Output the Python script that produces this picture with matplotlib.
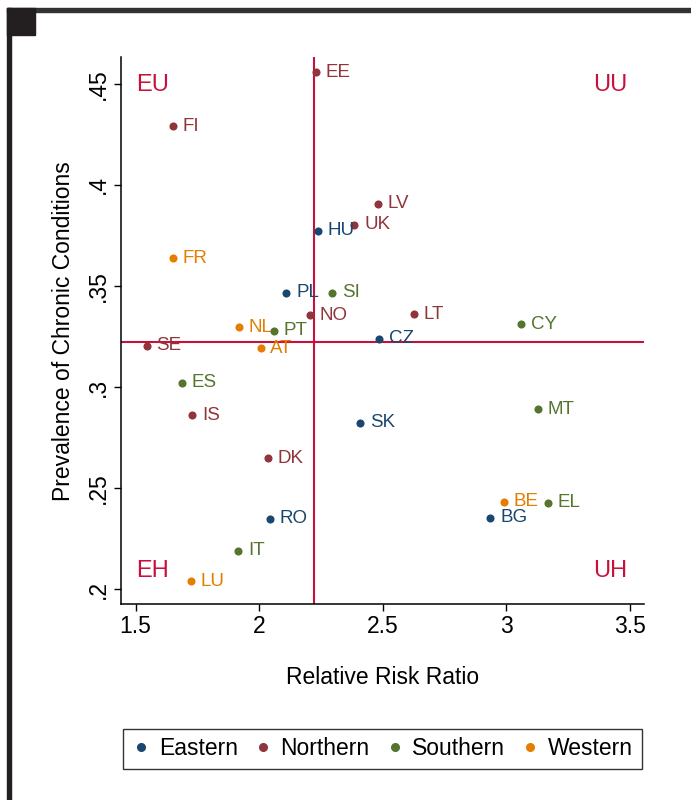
import matplotlib
matplotlib.use("Agg")
import matplotlib.pyplot as plt
from matplotlib.patches import Rectangle
from matplotlib.lines import Line2D

plt.rcParams['font.family'] = ['Liberation Sans', 'DejaVu Sans']

# country codes, region and the two measures
countries = ['EE', 'FI', 'LV', 'UK', 'HU', 'FR', 'PL', 'SI', 'NO', 'LT',
             'NL', 'PT', 'SE', 'AT', 'CZ', 'CY', 'ES', 'IS', 'SK', 'MT',
             'DK', 'BE', 'EL', 'BG', 'RO', 'IT', 'LU']
regions = ['Northern', 'Northern', 'Northern', 'Northern', 'Eastern', 'Western',
           'Eastern', 'Southern', 'Northern', 'Northern', 'Western', 'Southern',
           'Northern', 'Western', 'Eastern', 'Southern', 'Southern', 'Northern',
           'Eastern', 'Southern', 'Northern', 'Western', 'Southern', 'Eastern',
           'Eastern', 'Southern', 'Western']
risk_ratio = [2.229, 1.650, 2.479, 2.385, 2.237, 1.650, 2.110, 2.296, 2.206, 2.626,
              1.919, 2.060, 1.545, 2.006, 2.486, 3.059, 1.686, 1.729, 2.408, 3.127,
              2.034, 2.989, 3.167, 2.935, 2.044, 1.915, 1.723]
prevalence = [0.4558, 0.4291, 0.3906, 0.3802, 0.3774, 0.3637, 0.3467, 0.3467, 0.3356, 0.3360,
              0.3296, 0.3279, 0.3204, 0.3192, 0.3239, 0.3310, 0.3021, 0.2861, 0.2823, 0.2890,
              0.2647, 0.2432, 0.2427, 0.2353, 0.2347, 0.2190, 0.2038]

region_names = ['Eastern', 'Northern', 'Southern', 'Western']
region_colors = ['#1a476f', '#90353b', '#55752f', '#e37e00']

ref_x = 2.22
ref_y = 0.3222
quad_color = '#c8103c'

fig = plt.figure(figsize=(6.91, 8.0), dpi=100)
ax = fig.add_axes([0.1747, 0.245, 0.7577, 0.6834])

cmap = dict(zip(region_names, region_colors))
for x, y, c, r in zip(risk_ratio, prevalence, countries, regions):
    ax.scatter(x, y, s=34, color=cmap[r], zorder=3, linewidths=0)
    ax.annotate(c, (x, y), xytext=(7, 0), textcoords='offset points',
                color=cmap[r], fontsize=13.5, va='center', ha='left', zorder=3)

ax.axvline(ref_x, color=quad_color, lw=1.5, zorder=2)
ax.axhline(ref_y, color=quad_color, lw=1.5, zorder=2)

ax.text(1.502, 0.4495, 'EU', color=quad_color, fontsize=17, ha='left', va='center')
ax.text(3.49, 0.4495, 'UU', color=quad_color, fontsize=17, ha='right', va='center')
ax.text(1.502, 0.209, 'EH', color=quad_color, fontsize=17, ha='left', va='center')
ax.text(3.49, 0.209, 'UH', color=quad_color, fontsize=17, ha='right', va='center')

ax.set_xlim(1.4397, 3.558)
ax.set_ylim(0.1926, 0.4632)
ax.set_xticks([1.5, 2, 2.5, 3, 3.5])
ax.set_xticklabels(['1.5', '2', '2.5', '3', '3.5'])
ax.set_yticks([0.2, 0.25, 0.3, 0.35, 0.4, 0.45])
ax.set_yticklabels(['.2', '.25', '.3', '.35', '.4', '.45'], rotation=90, va='center')
ax.tick_params(direction='out', length=5, width=1, labelsize=16.5, pad=3)
for s in ['top', 'right']:
    ax.spines[s].set_visible(False)
for s in ['left', 'bottom']:
    ax.spines[s].set_linewidth(1.1)

ax.set_xlabel('Relative Risk Ratio', fontsize=16.5, labelpad=20)
ax.set_ylabel('Prevalence of Chronic Conditions', fontsize=16.5, labelpad=8)

handles = [Line2D([], [], marker='o', ls='', color=c, markersize=5.5) for c in region_colors]
leg = fig.legend(handles, region_names, loc='center', bbox_to_anchor=(0.5535, 0.0638),
                 ncol=4, fontsize=16.5, frameon=True, fancybox=False, handletextpad=0.38,
                 columnspacing=0.69, handlelength=0.8, borderpad=0.38, borderaxespad=0)
leg.get_frame().set_edgecolor('black')
leg.get_frame().set_linewidth(1.0)

# outer frame pieces
fig.patches.append(Rectangle((7 / 691, 0), 4 / 691, 1 - 8 / 800, transform=fig.transFigure,
                             color='#231f20', zorder=5))
fig.patches.append(Rectangle((7 / 691, 1 - 12 / 800), 1 - 7 / 691, 4 / 800,
                             transform=fig.transFigure, color='#333333', zorder=5))
fig.patches.append(Rectangle((7 / 691, 1 - 35 / 800), 28 / 691, 27 / 800,
                             transform=fig.transFigure, color='#231f20', zorder=5))

fig.savefig('out.png', dpi=100)
